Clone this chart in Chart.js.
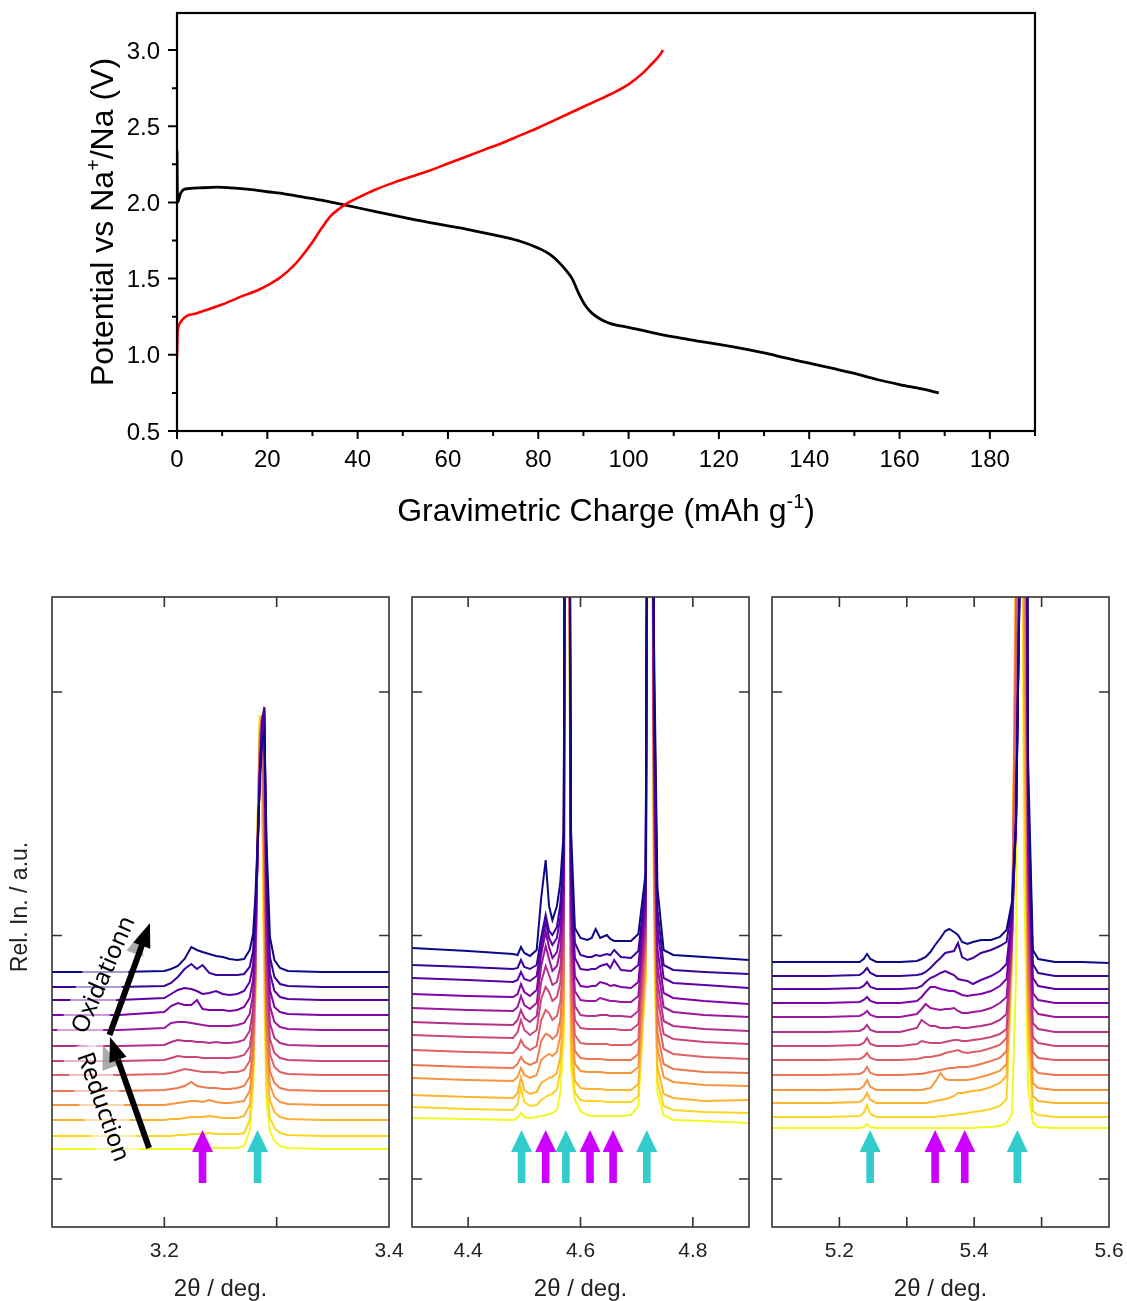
<!DOCTYPE html>
<html>
<head>
<meta charset="utf-8">
<title>Charge curves and operando XRD</title>
<script src="https://cdn.jsdelivr.net/npm/chart.js@4.4.1/dist/chart.umd.min.js"></script>
<style>
  html, body { margin: 0; padding: 0; background: #fff; }
  body { position: relative; width: 1127px; height: 1301px; overflow: hidden; }
  canvas { position: absolute; left: 0; }
</style>
</head>
<body>
<canvas id="galvano" width="1127" height="540" style="top:0px"></canvas>
<canvas id="xrd1" width="1127" height="741" style="top:560px"></canvas>
<canvas id="xrd2" width="1127" height="741" style="top:560px"></canvas>
<canvas id="xrd3" width="1127" height="741" style="top:560px"></canvas>
<script>
const FONT = '"Liberation Sans", Arial, sans-serif';
const NOTE_FONT = '"Noto Sans", "Open Sans", sans-serif';

// ---- TOP: galvanostatic curves ----
const capTicks = [0, 20, 40, 60, 80, 100, 120, 140, 160, 180];
const potTicks = [0.5, 1.0, 1.5, 2.0, 2.5, 3.0];

// charge (red)
const chargeCap = [0, 0.1, 0.3, 0.7, 1.5, 2.5, 4, 6, 10, 14, 18, 20, 23, 26, 28, 30, 32, 34, 36, 38, 40, 44, 48, 52, 56, 60, 64, 68, 72, 76, 80, 84, 88, 92, 96, 100, 103, 105, 107, 107.6];
const chargeV   = [0.98, 1.12, 1.18, 1.21, 1.24, 1.26, 1.27, 1.29, 1.33, 1.38, 1.425, 1.455, 1.51, 1.59, 1.66, 1.74, 1.83, 1.91, 1.96, 2.00, 2.03, 2.085, 2.13, 2.17, 2.21, 2.255, 2.30, 2.345, 2.39, 2.44, 2.49, 2.545, 2.60, 2.655, 2.71, 2.775, 2.845, 2.905, 2.97, 3.00];

// discharge (black)
const dischargeCap = [0, 0.05, 0.15, 0.4, 0.8, 1.5, 2.5, 5, 9, 12, 16, 20, 24, 28, 32, 36, 40, 44, 48, 52, 56, 60, 64, 68, 72, 76, 80, 82.5, 84.8, 86, 87.5, 89, 90.5, 92, 94, 96, 100, 105, 110, 115, 120, 125, 130, 135, 140, 145, 150, 155, 160, 165, 168.7];
const dischargeV   = [2.34, 2.15, 2.00, 2.02, 2.06, 2.085, 2.09, 2.095, 2.10, 2.095, 2.085, 2.07, 2.055, 2.035, 2.015, 1.99, 1.965, 1.94, 1.915, 1.89, 1.868, 1.846, 1.825, 1.80, 1.775, 1.745, 1.70, 1.66, 1.60, 1.56, 1.50, 1.40, 1.32, 1.27, 1.23, 1.205, 1.18, 1.147, 1.117, 1.092, 1.068, 1.042, 1.012, 0.978, 0.945, 0.912, 0.878, 0.838, 0.805, 0.776, 0.75];

// ---- BOTTOM: stacked XRD patterns (top trace first, yellow last) ----
const plasma = ['#0d0887', '#3a049a', '#5c01a6', '#7e03a8', '#9c179e', '#b52f8c', '#cc4778', '#de5f65', '#ed7953', '#f89540', '#fdb42f', '#fbd524', '#f0f921'];
const intensityMax = 630;
const intensityTicks = [48, 291.5, 535];

// panel 1: 3.1 - 3.4 deg
const p1Theta = [3.100, 3.160, 3.200, 3.206, 3.212, 3.218, 3.224, 3.229, 3.234, 3.240, 3.246, 3.252, 3.258, 3.265, 3.271, 3.276, 3.279, 3.281, 3.283, 3.285, 3.287, 3.289, 3.291, 3.294, 3.298, 3.303, 3.310, 3.340, 3.370, 3.400];
const p1Base = [255, 240, 227, 212, 197, 181, 166, 152, 136, 122, 107, 91, 78];
const p1Rel = [
  [0,0,1,3,6,13,25,22,20,18,16,15,13,12,13, 22,38,75,130,190,230,240,130,35,12,4, 1,0,0,0],
  [0,0,1,4,10,18,23,18,22,14,12,12,12,12,13, 20,36,75,140,210,265,280,125,30,10,3, 1,0,0,0],
  [0,0,2,6,10,12,11,9,6,7,9,6,5,6,9, 18,35,78,150,225,275,290,120,27,9,3, 1,0,0,0],
  [0,0,3,9,12,10,10,15,6,5,5,5,4,5,8, 17,35,80,160,240,285,300,110,25,8,3, 1,0,0,0],
  [0,0,2,7,8,8,7,6,5,4,4,4,4,5,7, 16,35,85,175,260,300,315,100,24,8,3, 1,0,0,0],
  [0,0,1,4,6,5,5,4,4,3,4,3,3,4,6, 15,36,90,190,280,320,330,90,23,8,3, 1,0,0,0],
  [0,0,1,3,5,4,4,4,3,3,3,3,3,4,6, 14,38,95,210,300,345,300,80,22,8,3, 1,0,0,0],
  [0,0,1,2,4,6,5,4,3,3,3,2,3,3,5, 14,40,100,230,330,360,250,70,21,8,3, 1,0,0,0],
  [0,0,1,2,3,5,9,5,4,3,3,2,2,3,5, 14,42,110,250,350,375,230,65,20,8,3, 1,0,0,0],
  [0,0,0,1,2,3,4,4,3,5,3,2,2,3,4, 14,45,120,270,370,388,210,60,20,8,3, 1,0,0,0],
  [0,0,0,1,1,2,3,3,3,4,3,2,2,2,4, 15,50,130,290,395,403,190,55,19,8,3, 1,0,0,0],
  [0,0,0,0,1,1,2,2,2,3,2,2,2,2,3, 16,55,140,310,420,360,170,50,18,8,3, 1,0,0,0],
  [0,0,0,0,0,0,0,0,0,1,1,1,1,1,3, 18,60,150,330,434,330,150,45,18,8,3, 1,0,0,0]
];
const p1Ticks = [3.2, 3.3];
const p1Labels = [3.2, 3.4];
const p1Cyan = [3.283];
const p1Magenta = [3.234];

// panel 2: 4.3 - 4.9 deg
const p2Theta = [4.300, 4.400, 4.480, 4.488, 4.494, 4.500, 4.510, 4.522, 4.530, 4.538, 4.544, 4.550, 4.558, 4.564, 4.570, 4.5765, 4.583, 4.590, 4.600, 4.612, 4.620, 4.627, 4.635, 4.647, 4.653, 4.660, 4.672, 4.690, 4.703, 4.716, 4.7235, 4.731, 4.737, 4.748, 4.765, 4.820, 4.900];
const p2Base = [279, 262, 249, 233, 219, 205, 192, 177, 162, 149, 132, 120, 109];
const p2Rel = [
  [0, -3, -6, -7, 1, -5, -8, -2, 50, 88, 42, 28, 42, 65, 115, 1200, 120, 20, 10, 8, 10, 19, 10, 13, 9, 7, 7, 7, 14, 75, 1200, 300, 60, -2, -7, -9, -12],
  [0, -2, -4, -3, 5, -2, -4, 0, 28, 50, 34, 30, 38, 60, 110, 1200, 110, 22, 10, 8, 8, 10, 9, 11, 10, 15, 8, 7, 14, 80, 1200, 280, 55, 0, -5, -7, -9],
  [0, -2, -4, -2, 6, -1, -3, 2, 32, 56, 40, 33, 40, 60, 110, 1200, 100, 20, 9, 8, 9, 9, 12, 14, 10, 18, 8, 7, 13, 85, 1200, 270, 50, 0, -5, -7, -10],
  [0, -2, -3, 0, 10, 2, -2, 4, 40, 62, 47, 36, 42, 60, 105, 1200, 95, 18, 8, 7, 8, 8, 12, 10, 8, 9, 7, 6, 12, 90, 1200, 260, 45, 1, -4, -7, -10],
  [0, -2, -3, 1, 12, 3, -1, 5, 42, 62, 49, 37, 42, 58, 100, 1200, 90, 17, 8, 7, 7, 7, 10, 8, 7, 7, 6, 6, 12, 95, 1200, 250, 42, 1, -4, -7, -9],
  [0, -2, -3, 2, 12, 4, 0, 6, 40, 56, 47, 37, 40, 55, 100, 1200, 85, 16, 7, 6, 6, 6, 7, 7, 6, 6, 6, 5, 11, 100, 1200, 240, 40, 1, -4, -7, -9],
  [0, -2, -3, 3, 15, 5, 0, 5, 36, 48, 43, 34, 38, 52, 95, 1200, 80, 15, 7, 6, 6, 6, 6, 6, 6, 6, 5, 5, 11, 105, 1200, 230, 38, 1, -4, -7, -9],
  [0, -2, -3, 2, 10, 4, 0, 4, 30, 40, 37, 30, 34, 48, 90, 1200, 75, 15, 7, 6, 6, 6, 6, 6, 5, 5, 5, 5, 11, 110, 1200, 220, 35, 1, -4, -7, -9],
  [0, -2, -3, 1, 8, 3, 0, 3, 24, 31, 30, 26, 30, 45, 90, 1200, 70, 14, 7, 6, 6, 6, 6, 5, 5, 5, 5, 5, 11, 115, 1200, 210, 32, 1, -4, -7, -8],
  [0, -2, -3, 1, 10, 3, 0, 3, 18, 22, 24, 22, 26, 42, 85, 1200, 65, 14, 7, 6, 6, 6, 6, 5, 5, 5, 5, 5, 11, 120, 1200, 200, 30, 1, -4, -7, -8],
  [0, -2, -3, 2, 18, 5, 1, 3, 12, 15, 17, 18, 22, 38, 80, 1200, 60, 14, 7, 6, 6, 6, 6, 5, 5, 5, 5, 5, 11, 125, 1200, 190, 28, 1, -3, -6, -5],
  [0, -2, -3, 3, 20, 5, 1, 2, 7, 10, 12, 13, 18, 35, 80, 1200, 55, 14, 7, 6, 6, 6, 6, 5, 5, 5, 5, 5, 11, 130, 1200, 180, 26, 1, -3, -5, -6],
  [0, -1, -2, 0, 5, 1, 0, 1, 2, 3, 4, 5, 8, 25, 75, 1200, 50, 18, 7, 3, 2, 2, 2, 2, 2, 2, 2, 3, 12, 140, 1200, 170, 25, 3, -2, -3, -5]
];
const p2Ticks = [4.4, 4.6, 4.8];
const p2Labels = [4.4, 4.6, 4.8];
const p2Cyan = [4.495, 4.574, 4.718];
const p2Magenta = [4.538, 4.617, 4.658];

// panel 3: 5.1 - 5.6 deg
const p3Theta = [5.100, 5.180, 5.230, 5.236, 5.241, 5.246, 5.255, 5.290, 5.315, 5.322, 5.328, 5.335, 5.342, 5.350, 5.357, 5.363, 5.370, 5.376, 5.382, 5.390, 5.398, 5.410, 5.425, 5.438, 5.448, 5.456, 5.462, 5.468, 5.474, 5.480, 5.487, 5.495, 5.520, 5.560, 5.600];
const p3Base = [265, 251, 238, 224, 210, 195, 181, 167, 152, 137, 124, 110, 99];
const p3Rel = [
  [0,0,0,3,8,3,0,0,1,3,5,10,17,24,31,33,30,27,20,18,20,22,22,25,32,60,140,400,1200,200,12,3,0,0,-1],
  [0,0,1,4,8,3,0,0,1,2,4,8,13,18,23,24,25,33,19,16,18,23,26,30,34,70,150,420,1200,190,12,3,0,0,0],
  [0,0,1,3,7,2,0,0,1,3,7,11,13,16,18,16,14,10,9,8,5,9,13,18,25,75,160,440,1200,180,11,3,0,0,0],
  [0,0,1,3,6,2,0,0,2,6,11,16,16,14,13,12,12,10,8,7,8,9,12,17,24,80,180,460,1200,170,10,3,0,0,0],
  [0,0,1,3,6,2,0,0,3,8,13,9,8,7,8,8,9,6,4,4,5,6,9,14,20,85,200,480,1200,160,10,3,0,0,0],
  [0,0,1,3,7,2,0,0,4,12,9,6,6,4,4,4,5,5,4,4,5,6,8,12,18,90,220,500,1200,150,9,3,0,0,0],
  [0,0,1,3,8,2,0,0,2,5,4,3,3,3,4,5,6,6,5,5,6,7,9,12,17,100,260,600,1200,130,9,3,0,0,0],
  [0,0,1,3,7,2,0,0,1,2,3,3,4,5,7,8,9,10,8,7,8,9,12,15,22,120,400,1200,700,120,8,2,0,0,0],
  [0,0,1,3,8,2,0,0,1,1,2,3,4,5,6,7,7,8,8,8,9,11,14,17,24,130,450,1200,600,110,8,2,0,0,0],
  [0,0,1,4,10,3,0,0,0,0,1,2,8,17,11,10,10,10,10,10,11,13,16,19,26,140,500,1200,500,100,7,2,0,0,0],
  [0,0,1,4,10,3,0,0,0,0,0,1,2,3,4,5,7,10,10,11,12,13,16,20,27,150,550,1200,400,90,7,2,0,0,0],
  [0,0,1,4,12,3,0,0,0,0,0,0,0,1,1,2,2,3,3,4,5,6,8,11,18,150,600,1200,350,80,6,2,0,0,0],
  [0,0,0,1,4,1,0,0,0,0,0,0,0,0,0,0,0,0,0,0,0,1,1,2,5,14,150,1200,250,40,5,1,0,0,0]
];
const p3Ticks = [5.2, 5.3, 5.4, 5.5];
const p3Labels = [5.2, 5.4, 5.6];
const p3Cyan = [5.2456, 5.464];
const p3Magenta = [5.342, 5.386];

// ---- helpers ----
function pts(xs, ys) { return xs.map((v, i) => ({ x: v, y: ys[i] })); }

// text with superscript parts, centred on x
function drawRich(ctx, parts, x, y, size, font) {
  const widths = parts.map(([t, sup]) => { ctx.font = (sup ? size * 0.62 : size) + 'px ' + font; return ctx.measureText(t).width; });
  let cx = x - widths.reduce((a, b) => a + b, 0) / 2;
  ctx.textAlign = 'left';
  ctx.textBaseline = 'alphabetic';
  parts.forEach(([t, sup], i) => {
    ctx.font = (sup ? size * 0.62 : size) + 'px ' + font;
    ctx.fillText(t, cx, sup ? y - size * 0.4 : y);
    cx += widths[i];
  });
}

function blockArrow(ctx, px, tipY, footY, color) {
  const headLen = 22, headHalf = 10.5, shaftHalf = 3.8;
  ctx.fillStyle = color;
  ctx.beginPath();
  ctx.moveTo(px, tipY);
  ctx.lineTo(px + headHalf, tipY + headLen);
  ctx.lineTo(px + shaftHalf, tipY + headLen);
  ctx.lineTo(px + shaftHalf, footY);
  ctx.lineTo(px - shaftHalf, footY);
  ctx.lineTo(px - shaftHalf, tipY + headLen);
  ctx.lineTo(px - headHalf, tipY + headLen);
  ctx.closePath();
  ctx.fill();
}

function thickArrow(ctx, from, to) {
  const [x0, y0] = from, [x1, y1] = to;
  const ang = Math.atan2(y1 - y0, x1 - x0);
  const len = 24, half = 9;
  const bx = x1 - len * Math.cos(ang), by = y1 - len * Math.sin(ang);
  const nx = Math.sin(ang) * half, ny = -Math.cos(ang) * half;
  const head = (dx, dy) => {
    ctx.beginPath();
    ctx.moveTo(x1 + dx, y1 + dy);
    ctx.lineTo(bx + nx + dx, by + ny + dy);
    ctx.lineTo(bx - nx + dx, by - ny + dy);
    ctx.closePath();
    ctx.fill();
  };
  ctx.fillStyle = 'rgba(150,150,150,0.8)';
  head(-7, 8);
  ctx.strokeStyle = '#000';
  ctx.fillStyle = '#000';
  ctx.lineWidth = 6;
  ctx.beginPath();
  ctx.moveTo(x0, y0);
  ctx.lineTo(bx, by);
  ctx.stroke();
  head(0, 0);
}

// Oxidation / Reduction note in first panel
function drawRedox(ctx, x, y) {
  const P = (t, r) => [x.getPixelForValue(t), y.getPixelForValue(r)];
  const notes = [
    { text: 'Oxidationn', at: P(3.1463, 252), angle: -66.6 },
    { text: 'Reduction', at: P(3.1450, 120), angle: 70.5 }
  ];
  ctx.font = '24px ' + NOTE_FONT;
  notes.forEach(n => {
    const w = ctx.measureText(n.text).width + 18;
    ctx.save();
    ctx.translate(n.at[0], n.at[1]);
    ctx.rotate(n.angle * Math.PI / 180);
    ctx.fillStyle = 'rgba(255,255,255,0.6)';
    ctx.fillRect(-w / 2, -21, w, 42);
    ctx.restore();
  });
  thickArrow(ctx, P(3.1864, 79), P(3.1516, 190));
  thickArrow(ctx, P(3.1512, 192), P(3.1872, 304));
  ctx.fillStyle = '#000';
  ctx.textAlign = 'center';
  ctx.textBaseline = 'middle';
  notes.forEach(n => {
    ctx.save();
    ctx.translate(n.at[0], n.at[1]);
    ctx.rotate(n.angle * Math.PI / 180);
    ctx.fillText(n.text, 0, 0);
    ctx.restore();
  });
}

// ---- plugins ----
const galvanoDeco = {
  id: 'galvanoDeco',
  afterDraw(chart) {
    const { ctx, chartArea: a, scales: { x, y } } = chart;
    ctx.save();
    ctx.strokeStyle = '#000';
    ctx.fillStyle = '#000';
    ctx.lineWidth = 2.2;
    ctx.strokeRect(a.left, a.top, a.right - a.left, a.bottom - a.top);
    ctx.lineWidth = 2;
    ctx.beginPath();
    capTicks.forEach((v, i) => {
      const px = x.getPixelForValue(v);
      ctx.moveTo(px, a.bottom); ctx.lineTo(px, a.bottom + 8);
      const next = i < capTicks.length - 1 ? capTicks[i + 1] : v + 20;
      const mx = x.getPixelForValue((v + next) / 2);
      ctx.moveTo(mx, a.bottom); ctx.lineTo(mx, a.bottom + 5);
    });
    potTicks.forEach((v, i) => {
      const py = y.getPixelForValue(v);
      ctx.moveTo(a.left, py); ctx.lineTo(a.left - 9, py);
      if (i < potTicks.length - 1) {
        const my = y.getPixelForValue((v + potTicks[i + 1]) / 2);
        ctx.moveTo(a.left, my); ctx.lineTo(a.left - 5, my);
      }
    });
    ctx.stroke();

    ctx.font = '24px ' + FONT;
    ctx.textBaseline = 'alphabetic';
    ctx.textAlign = 'center';
    capTicks.forEach(v => ctx.fillText(String(v), x.getPixelForValue(v), a.bottom + 36));
    ctx.textAlign = 'right';
    potTicks.forEach(v => ctx.fillText(v.toFixed(1), a.left - 17, y.getPixelForValue(v) + 8.5));

    drawRich(ctx, [['Gravimetric Charge (mAh g', 0], ['-1', 1], [')', 0]], (a.left + a.right) / 2, 521, 32, FONT);
    ctx.save();
    ctx.translate(113, (a.top + a.bottom) / 2);
    ctx.rotate(-Math.PI / 2);
    drawRich(ctx, [['Potential vs Na', 0], ['+', 1], ['/Na (V)', 0]], 0, 0, 32, FONT);
    ctx.restore();
    ctx.restore();
  }
};

const xrdDeco = {
  id: 'xrdDeco',
  afterDraw(chart, args, o) {
    const { ctx, chartArea: a, scales: { x, y } } = chart;
    ctx.save();
    if (o.note) drawRedox(ctx, x, y);
    const tipY = y.getPixelForValue(97), footY = y.getPixelForValue(44);
    o.magenta.forEach(v => blockArrow(ctx, x.getPixelForValue(v), tipY, footY, '#cc00ff'));
    o.cyan.forEach(v => blockArrow(ctx, x.getPixelForValue(v), tipY, footY, '#33cccc'));

    ctx.strokeStyle = '#333';
    ctx.lineWidth = 1.6;
    ctx.strokeRect(a.left, a.top, a.right - a.left, a.bottom - a.top);
    ctx.beginPath();
    o.ticks.forEach(v => {
      const px = x.getPixelForValue(v);
      ctx.moveTo(px, a.bottom); ctx.lineTo(px, a.bottom - 10);
      ctx.moveTo(px, a.top); ctx.lineTo(px, a.top + 10);
    });
    intensityTicks.forEach(v => {
      const py = y.getPixelForValue(v);
      ctx.moveTo(a.left, py); ctx.lineTo(a.left + 10, py);
      ctx.moveTo(a.right, py); ctx.lineTo(a.right - 10, py);
    });
    ctx.stroke();

    ctx.fillStyle = '#222';
    ctx.textAlign = 'center';
    ctx.textBaseline = 'alphabetic';
    ctx.font = '21px ' + FONT;
    o.labels.forEach(v => ctx.fillText(v.toFixed(1), x.getPixelForValue(v), a.bottom + 30));
    ctx.font = '24px ' + FONT;
    ctx.fillText('2θ / deg.', (a.left + a.right) / 2, a.bottom + 69);
    if (o.note) {
      ctx.save();
      ctx.translate(27, 907 - 560);
      ctx.rotate(-Math.PI / 2);
      ctx.font = '23px ' + FONT;
      ctx.fillText('Rel. In. / a.u.', 0, 0);
      ctx.restore();
    }
    ctx.restore();
  }
};

// ---- charts ----
new Chart(document.getElementById('galvano'), {
  type: 'line',
  data: {
    datasets: [
      { data: pts(chargeCap, chargeV), borderColor: '#ff0000', borderWidth: 2.6, pointRadius: 0, cubicInterpolationMode: 'monotone' },
      { data: pts(dischargeCap, dischargeV), borderColor: '#000000', borderWidth: 2.8, pointRadius: 0, cubicInterpolationMode: 'monotone' }
    ]
  },
  options: {
    responsive: false, animation: false, events: [],
    layout: { padding: { left: 177, right: 92, top: 13, bottom: 109 } },
    scales: {
      x: { type: 'linear', min: 0, max: 190, display: false },
      y: { type: 'linear', min: 0.5, max: 3.243, display: false }
    },
    plugins: { legend: { display: false }, tooltip: { enabled: false } }
  },
  plugins: [galvanoDeco]
});

function xrdPanel(id, theta, base, rel, cfg) {
  const datasets = rel.map((row, i) => ({
    data: theta.map((t, j) => ({ x: t, y: base[i] + row[j] })),
    borderColor: plasma[i], borderWidth: 2, pointRadius: 0, tension: 0, fill: false
  }));
  return new Chart(document.getElementById(id), {
    type: 'line',
    data: { datasets },
    options: {
      responsive: false, animation: false, events: [],
      layout: { padding: cfg.padding },
      scales: {
        x: { type: 'linear', min: theta[0], max: theta[theta.length - 1], display: false },
        y: { type: 'linear', min: 0, max: intensityMax, display: false }
      },
      plugins: { legend: { display: false }, tooltip: { enabled: false }, xrdDeco: cfg }
    },
    plugins: [xrdDeco]
  });
}

xrdPanel('xrd1', p1Theta, p1Base, p1Rel, {
  padding: { left: 52, right: 738, top: 37, bottom: 74 },
  ticks: p1Ticks, labels: p1Labels, cyan: p1Cyan, magenta: p1Magenta, note: true
});
xrdPanel('xrd2', p2Theta, p2Base, p2Rel, {
  padding: { left: 412, right: 378, top: 37, bottom: 74 },
  ticks: p2Ticks, labels: p2Labels, cyan: p2Cyan, magenta: p2Magenta, note: false
});
xrdPanel('xrd3', p3Theta, p3Base, p3Rel, {
  padding: { left: 772, right: 18, top: 37, bottom: 74 },
  ticks: p3Ticks, labels: p3Labels, cyan: p3Cyan, magenta: p3Magenta, note: false
});
</script>
</body>
</html>
